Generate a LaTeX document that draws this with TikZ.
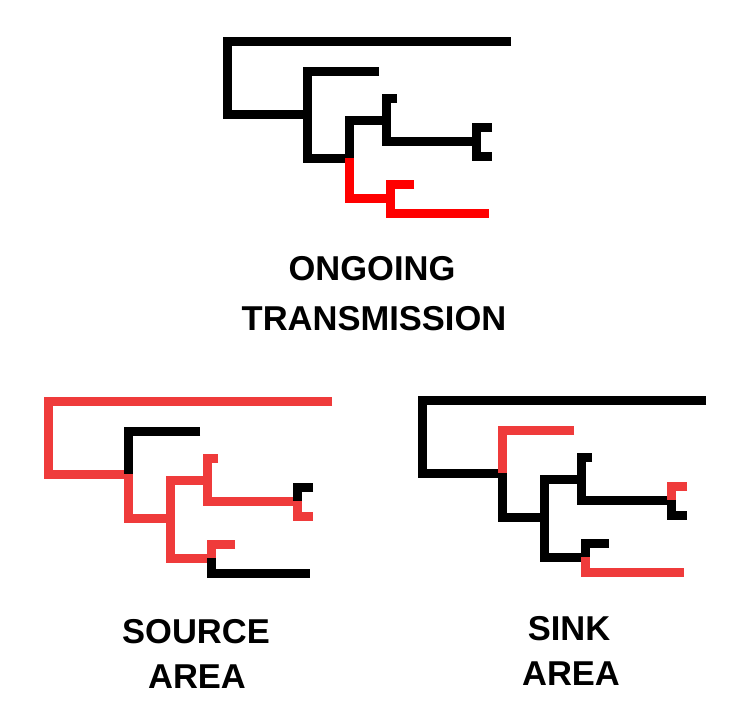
\documentclass[tikz,border=0pt]{standalone}
\usepackage{fontspec}
\setmainfont{Liberation Sans}
\definecolor{ored}{RGB}{255,0,0}
\definecolor{sred}{RGB}{239,59,59}
\tikzset{
  branch/.style={line width=9pt, line cap=butt, line join=miter},
  lbl/.style={font=\bfseries\fontsize{34.5}{40}\selectfont, anchor=base, inner sep=0pt}
}
\newcommand\phylotree[9]{%
  \draw[branch,#1] (284,0) -- (0,0) -- (0,73) -- (80,73);
  \draw[branch,#2] (152,30) -- (80,30) -- (80,73);
  \draw[branch,#3] (80,73) -- (80,117) -- (122,117);
  \draw[branch,#4] (122,117) -- (122,79) -- (159,79);
  \draw[branch,#4] (170,57) -- (159,57) -- (159,100) -- (249,100);
  \draw[branch,#5] (122,117) -- (122,157) -- (163,157);
  \draw[branch,#6] (265,86) -- (249,86) -- (249,100);
  \draw[branch,#7] (249,100) -- (249,115) -- (265,115);
  \draw[branch,#8] (187,143) -- (163,143) -- (163,157);
  \draw[branch,#9] (163,157) -- (163,172) -- (262,172);
}
\begin{document}
\begin{tikzpicture}[x=1pt,y=-1pt]
\useasboundingbox[fill=white] (0,0) rectangle (736,707);
% ongoing transmission
\begin{scope}[shift={(227,41)}]
  \phylotree{black}{black}{black}{black}{ored}{black}{black}{ored}{ored}
\end{scope}
% source area
\begin{scope}[shift={(48,401)}]
  \phylotree{sred}{black}{sred}{sred}{sred}{black}{sred}{sred}{black}
\end{scope}
% sink area
\begin{scope}[shift={(422,400)}]
  \phylotree{black}{sred}{black}{black}{black}{sred}{black}{black}{sred}
\end{scope}
\node[lbl] (ongoing) at (372,280) {ONGOING};
\node[lbl] (transmission) at (374,330) {TRANSMISSION};
\node[lbl] (source) at (196,643) {SOURCE};
\node[lbl] (sourcearea) at (197,688) {AREA};
\node[lbl] (sink) at (569,640) {SINK};
\node[lbl] (sinkarea) at (571,685) {AREA};
\end{tikzpicture}
\end{document}
